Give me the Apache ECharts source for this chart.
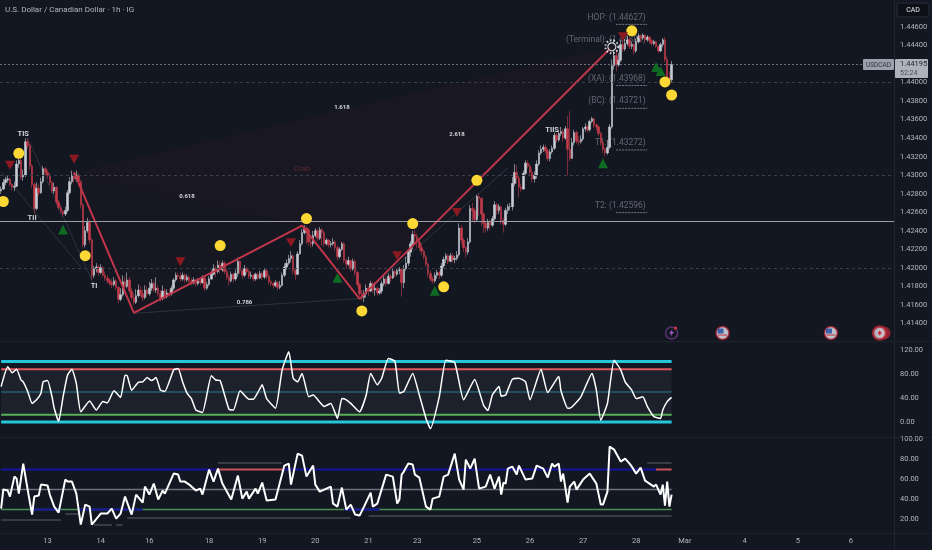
<!DOCTYPE html>
<html><head><meta charset="utf-8">
<style>html,body{margin:0;padding:0;background:#131722}#c{width:932px;height:550px}</style>
<script src="https://cdn.jsdelivr.net/npm/echarts@6/dist/echarts.min.js"></script>
</head><body><div id="c"></div>
<script>
const barCount = 404;
const tickBars = [21,45,67,94,118,142,166,188,215,239,263,287,309,336,360,384];
const tickLabels = ['13','14','16','18','19','20','21','23','25','26','27','28','Mar','4','5','6'];
const firstOpen = 1.4283;
const closes = [
1.4285,1.4292,1.4295,1.4296,1.4290,1.4287,1.4288,1.4312,1.4316,1.4298,
1.4300,1.4336,1.4332,1.4310,1.4290,1.4264,1.4286,1.4281,1.4293,1.4307,
1.4303,1.4300,1.4292,1.4283,1.4287,1.4271,1.4265,1.4261,1.4258,1.4262,
1.4281,1.4293,1.4300,1.4296,1.4300,1.4293,1.4268,1.4225,1.4240,1.4249,
1.4230,1.4192,1.4199,1.4201,1.4195,1.4200,1.4192,1.4189,1.4186,1.4184,
1.4182,1.4186,1.4179,1.4166,1.4171,1.4185,1.4180,1.4187,1.4175,1.4168,
1.4163,1.4170,1.4176,1.4172,1.4168,1.4176,1.4172,1.4178,1.4183,1.4176,
1.4178,1.4172,1.4167,1.4175,1.4169,1.4173,1.4172,1.4178,1.4187,1.4192,
1.4191,1.4188,1.4192,1.4187,1.4190,1.4186,1.4184,1.4187,1.4183,1.4186,
1.4184,1.4189,1.4178,1.4182,1.4188,1.4193,1.4199,1.4196,1.4203,1.4198,
1.4205,1.4196,1.4190,1.4186,1.4193,1.4188,1.4194,1.4207,1.4197,1.4192,
1.4199,1.4196,1.4191,1.4192,1.4188,1.4193,1.4189,1.4194,1.4190,1.4197,
1.4191,1.4185,1.4183,1.4181,1.4184,1.4179,1.4181,1.4192,1.4201,1.4205,
1.4210,1.4213,1.4197,1.4193,1.4215,1.4226,1.4238,1.4243,1.4241,1.4228,
1.4226,1.4235,1.4240,1.4232,1.4241,1.4238,1.4226,1.4230,1.4225,1.4226,
1.4228,1.4222,1.4212,1.4220,1.4226,1.4208,1.4204,1.4208,1.4199,1.4207,
1.4195,1.4182,1.4172,1.4168,1.4172,1.4178,1.4175,1.4183,1.4176,1.4178,
1.4173,1.4175,1.4183,1.4188,1.4183,1.4191,1.4189,1.4196,1.4193,1.4197,
1.4198,1.4184,1.4199,1.4205,1.4217,1.4226,1.4236,1.4234,1.4228,1.4222,
1.4218,1.4212,1.4204,1.4194,1.4188,1.4186,1.4192,1.4195,1.4192,1.4202,
1.4209,1.4213,1.4207,1.4213,1.4209,1.4210,1.4214,1.4243,1.4230,1.4222,
1.4217,1.4228,1.4264,1.4262,1.4252,1.4277,1.4275,1.4258,1.4248,1.4243,
1.4249,1.4246,1.4253,1.4268,1.4262,1.4266,1.4251,1.4247,1.4262,1.4266,
1.4266,1.4291,1.4303,1.4297,1.4287,1.4285,1.4302,1.4313,1.4310,1.4303,
1.4296,1.4300,1.4312,1.4324,1.4328,1.4330,1.4326,1.4318,1.4325,1.4329,
1.4343,1.4338,1.4345,1.4347,1.4340,1.4350,1.4328,1.4318,1.4335,1.4346,
1.4337,1.4336,1.4339,1.4350,1.4352,1.4349,1.4358,1.4361,1.4354,1.4352,
1.4345,1.4335,1.4328,1.4324,1.4330,1.4352,1.4418,1.4429,1.4419,1.4424,
1.4441,1.4436,1.4442,1.4446,1.4439,1.4441,1.4434,1.4444,1.4450,1.4448,
1.4451,1.4446,1.4449,1.4445,1.4442,1.4444,1.4439,1.4434,1.4441,1.4446,
1.4425,1.4405,1.4403,1.44195];
const highs = [
1.4288,1.4296,1.4298,1.4299,1.4297,1.4291,1.4293,1.4316,1.4320,1.4318,
1.4306,1.4340,1.4340,1.4334,1.4312,1.4292,1.4292,1.4290,1.4297,1.4310,
1.4309,1.4306,1.4302,1.4294,1.4292,1.4288,1.4273,1.4268,1.4262,1.4266,
1.4284,1.4298,1.4305,1.4303,1.4305,1.4302,1.4295,1.4270,1.4245,1.4254,
1.4252,1.4232,1.4202,1.4205,1.4203,1.4204,1.4202,1.4196,1.4192,1.4189,
1.4188,1.4190,1.4188,1.4180,1.4178,1.4192,1.4190,1.4195,1.4190,1.4178,
1.4172,1.4177,1.4182,1.4180,1.4176,1.4181,1.4180,1.4185,1.4188,1.4186,
1.4190,1.4181,1.4176,1.4181,1.4178,1.4177,1.4177,1.4181,1.4189,1.4195,
1.4195,1.4195,1.4195,1.4194,1.4193,1.4192,1.4189,1.4190,1.4188,1.4189,
1.4189,1.4192,1.4190,1.4185,1.4191,1.4197,1.4204,1.4202,1.4208,1.4207,
1.4208,1.4207,1.4199,1.4193,1.4196,1.4195,1.4198,1.4211,1.4208,1.4198,
1.4203,1.4201,1.4198,1.4196,1.4194,1.4195,1.4195,1.4197,1.4196,1.4200,
1.4199,1.4193,1.4187,1.4185,1.4187,1.4186,1.4186,1.4195,1.4205,1.4209,
1.4214,1.4218,1.4215,1.4200,1.4218,1.4230,1.4242,1.4246,1.4245,1.4243,
1.4232,1.4240,1.4243,1.4242,1.4244,1.4243,1.4240,1.4232,1.4231,1.4229,
1.4232,1.4230,1.4224,1.4222,1.4228,1.4228,1.4210,1.4212,1.4208,1.4210,
1.4209,1.4197,1.4184,1.4176,1.4176,1.4182,1.4180,1.4186,1.4185,1.4184,
1.4180,1.4178,1.4186,1.4191,1.4190,1.4194,1.4193,1.4199,1.4198,1.4199,
1.4201,1.4200,1.4203,1.4212,1.4220,1.4229,1.4240,1.4241,1.4237,1.4231,
1.4226,1.4220,1.4214,1.4206,1.4197,1.4191,1.4195,1.4198,1.4197,1.4205,
1.4212,1.4216,1.4215,1.4216,1.4216,1.4213,1.4218,1.4248,1.4246,1.4232,
1.4224,1.4232,1.4268,1.4270,1.4265,1.4279,1.4280,1.4276,1.4260,1.4250,
1.4253,1.4252,1.4256,1.4272,1.4270,1.4269,1.4267,1.4254,1.4265,1.4269,
1.4270,1.4298,1.4312,1.4311,1.4300,1.4291,1.4305,1.4316,1.4316,1.4312,
1.4307,1.4304,1.4316,1.4327,1.4332,1.4333,1.4333,1.4329,1.4328,1.4332,
1.4346,1.4346,1.4348,1.4352,1.4350,1.4353,1.4364,1.4369,1.4340,1.4349,
1.4348,1.4342,1.4343,1.4352,1.4356,1.4354,1.4360,1.4363,1.4362,1.4356,
1.4354,1.4347,1.4338,1.4330,1.4338,1.4355,1.4425,1.4447,1.4436,1.4432,
1.4446,1.4445,1.4447,1.4450,1.4449,1.4444,1.4443,1.4447,1.4453,1.4452,
1.4453,1.4452,1.4451,1.4450,1.4447,1.4446,1.4445,1.4440,1.4443,1.4448,
1.4449,1.4428,1.4412,1.4423];
const lows = [
1.4280,1.4284,1.4289,1.4292,1.4288,1.4284,1.4283,1.4287,1.4308,1.4295,
1.4294,1.4298,1.4328,1.4306,1.4286,1.4258,1.4262,1.4278,1.4280,1.4291,
1.4300,1.4296,1.4289,1.4281,1.4280,1.4268,1.4262,1.4258,1.4255,1.4256,
1.4260,1.4279,1.4290,1.4292,1.4293,1.4288,1.4264,1.4222,1.4222,1.4238,
1.4226,1.4187,1.4189,1.4195,1.4191,1.4193,1.4190,1.4186,1.4183,1.4181,
1.4178,1.4180,1.4176,1.4162,1.4164,1.4169,1.4176,1.4178,1.4172,1.4165,
1.4160,1.4161,1.4168,1.4169,1.4164,1.4166,1.4169,1.4170,1.4175,1.4174,
1.4173,1.4169,1.4164,1.4165,1.4166,1.4167,1.4168,1.4170,1.4176,1.4185,
1.4188,1.4185,1.4186,1.4184,1.4185,1.4183,1.4181,1.4182,1.4180,1.4181,
1.4181,1.4183,1.4175,1.4176,1.4180,1.4187,1.4192,1.4190,1.4194,1.4194,
1.4196,1.4193,1.4187,1.4181,1.4184,1.4184,1.4186,1.4190,1.4193,1.4188,
1.4190,1.4193,1.4188,1.4188,1.4185,1.4186,1.4187,1.4188,1.4187,1.4188,
1.4188,1.4182,1.4180,1.4178,1.4179,1.4176,1.4177,1.4180,1.4190,1.4198,
1.4203,1.4206,1.4193,1.4187,1.4192,1.4214,1.4224,1.4236,1.4226,1.4224,
1.4222,1.4223,1.4233,1.4229,1.4230,1.4224,1.4223,1.4224,1.4222,1.4222,
1.4224,1.4218,1.4208,1.4210,1.4218,1.4205,1.4199,1.4202,1.4196,1.4197,
1.4191,1.4179,1.4169,1.4165,1.4163,1.4168,1.4170,1.4174,1.4173,1.4170,
1.4170,1.4171,1.4172,1.4180,1.4180,1.4182,1.4185,1.4188,1.4190,1.4191,
1.4193,1.4169,1.4178,1.4197,1.4202,1.4212,1.4220,1.4226,1.4222,1.4218,
1.4214,1.4209,1.4201,1.4190,1.4185,1.4183,1.4184,1.4188,1.4188,1.4190,
1.4200,1.4205,1.4204,1.4206,1.4206,1.4205,1.4208,1.4212,1.4226,1.4217,
1.4211,1.4214,1.4226,1.4250,1.4248,1.4250,1.4256,1.4245,1.4238,1.4238,
1.4240,1.4241,1.4244,1.4251,1.4257,1.4258,1.4247,1.4238,1.4245,1.4258,
1.4262,1.4262,1.4288,1.4291,1.4276,1.4282,1.4284,1.4300,1.4307,1.4299,
1.4292,1.4292,1.4296,1.4310,1.4322,1.4325,1.4323,1.4315,1.4315,1.4323,
1.4327,1.4335,1.4336,1.4342,1.4336,1.4338,1.4300,1.4315,1.4318,1.4332,
1.4334,1.4332,1.4334,1.4337,1.4347,1.4346,1.4347,1.4356,1.4351,1.4348,
1.4342,1.4332,1.4324,1.4320,1.4322,1.4328,1.4350,1.4414,1.4412,1.4417,
1.4422,1.4433,1.4434,1.4440,1.4436,1.4436,1.4430,1.4432,1.4442,1.4444,
1.4446,1.4443,1.4444,1.4442,1.4440,1.4440,1.4437,1.4432,1.4433,1.4438,
1.4422,1.4400,1.4398,1.4400];

const patternBars = [33,60,136,162,276];
const patternPrices = [1.4303,1.41514,1.42455,1.41665,1.44385];
const faintLines = [[[12,1.43399],[42,1.41817]],[[0,1.4304],[36,1.4201]],[[162,1.4167],[229,1.4308]],[[60,1.4151],[162,1.4167]]];
const shadeA = [[33,1.4303],[60,1.41514],[136,1.42455]];
const shadeB = [[33,1.4303],[276,1.44385],[162,1.41665],[136,1.42455]];

const bulletBars = [1,8,38,99,138,163,186,200,215,285,300,303];
const bulletPrices = [1.42716,1.43236,1.42131,1.4224,1.42532,1.41535,1.42478,1.41795,1.42944,1.44558,1.44006,1.43865];
const downBars = [4,33,81,131,179,206,281];
const downPrices = [1.43106,1.43171,1.42066,1.42272,1.42131,1.42597,1.44493];
const upBars = [28,152,196,272,296,298];
const upPrices = [1.42413,1.41893,1.41752,1.43128,1.44168,1.44125];

const nameLabels = ['TIS','TII','TI','TIIS'];
const nameLabelBars = [10,14,42,249];
const nameLabelPrices = [1.43444,1.42538,1.41804,1.43487];
const ratioLabels = ['0.618','1.618','2.618','0.786'];
const ratioLabelBars = [84,154,206,110];
const ratioLabelPrices = [1.42775,1.4373,1.43444,1.41621];
const harmonicLabels = ['HOP: (1.44627)','(Terminal): (1.44385)','(XA): (1.43968)','(BC): (1.43721)','T1: (1.43272)','T2: (1.42596)'];
const harmonicPrices = [1.44627,1.44385,1.43968,1.43721,1.43272,1.42596];
const underlinePrices = [1.44627,1.43968,1.43721,1.43272,1.42596];
const terminalPoint = [276,1.44385];
const eventPrice = 1.41297;
const usEvents = [326,375];
const caEvents = [397];
const newsEvents = [303];

const osc1Bars = [0,3,5,7,9,10,12,14,16,18,19,21,23,24,26,28,30,32,34,36,40,43,46,48,51,54,56,57,59,62,64,66,68,70,72,74,78,80,82,84,86,88,91,95,97,99,103,105,108,112,114,116,118,120,124,127,130,132,134,136,139,141,146,149,152,154,156,158,162,165,167,170,172,175,178,180,182,186,189,192,194,198,201,205,209,214,218,220,222,225,226,228,231,234,237,239,244,247,252,253,256,257,262,267,269,271,274,277,280,282,285,287,290,292,295,298,299,301,303];
const osc1Values = [59,92,82,88,70,67,51,31,37,48,67,69,42,23,1,42,78,88,64,17,35,20,34,32,52,41,78,77,53,66,67,74,69,74,53,51,87,89,67,48,39,20,16,77,70,69,21,20,52,38,38,49,62,39,23,87,117,73,67,81,42,45,26,31,6,39,37,31,17,45,81,62,73,106,101,48,51,81,45,6,-11,42,103,99,37,71,28,19,45,59,43,45,71,73,67,37,88,49,76,52,23,23,42,81,53,3,31,103,87,67,53,39,42,26,9,6,20,34,41];
const osc1Levels = [101,88,50,12,0];

const osc2Bars = [0,1,3,4,6,7,8,10,12,14,15,17,18,21,22,24,26,29,30,32,34,36,38,40,41,45,48,50,52,54,56,59,61,64,65,67,69,71,73,74,78,80,81,83,85,88,90,91,94,96,98,100,104,107,109,111,112,115,116,118,120,124,128,130,131,134,136,138,141,142,144,148,149,150,152,154,156,158,160,162,164,167,168,170,174,177,179,180,181,182,184,186,187,189,192,194,195,198,200,202,205,207,209,210,212,214,216,219,221,223,225,226,227,228,229,231,233,234,237,240,242,245,247,249,250,252,253,254,256,257,259,260,263,266,269,271,272,274,275,277,280,282,284,285,287,289,291,295,296,298,299,300,301,302,303];
const osc2Values = [31,50,49,43,63,61,46,76,50,25,43,44,55,54,45,33,27,60,58,58,46,15,35,33,15,26,26,31,21,26,43,25,45,37,53,45,56,40,49,46,66,65,58,58,55,49,51,45,70,58,71,56,40,64,41,48,41,51,46,57,39,40,74,76,55,86,84,63,74,55,48,52,53,36,33,52,30,35,25,24,33,47,33,36,65,63,36,40,65,68,76,75,65,62,33,30,41,43,63,65,86,60,50,80,71,81,51,53,65,51,63,45,57,56,71,73,65,74,60,61,74,71,62,76,73,76,58,66,37,53,58,50,60,66,56,35,35,48,93,90,78,81,76,73,66,72,59,53,55,45,55,34,58,33,45];
const osc2UpperBlue = [[0,97],[127,296]];
const osc2UpperRed = [[98,127],[296,303]];
const osc2LowerBlue = [[13,27],[35,64],[155,171]];
const osc2Greys = [[19.6,0,27],[25.6,29,35],[14.6,42,50],[14.6,52,55],[21.6,57,158],[23.6,166,303],[76.6,98,127],[76.6,292,303]];

const pricePrecision = 5;
const col = {bg:'#131722', up:'#c8ccd4', down:'#c23b4a', red:'#c2364a', sep:'#2a2e39', text:'#b2b5be', mute:'#787b86'};
const font = 'Roboto, "Noto Sans", sans-serif';
const lastBar = closes.length - 1;

const candleData = closes.map((c,i)=>[i===0?firstOpen:closes[i-1], c, lows[i], highs[i]]);
const zip = (xs,ys)=>xs.map((x,i)=>[x,ys[i]]);
const cats = Array.from({length:barCount},(_,i)=>String(i));
const tickMap = {}; tickBars.forEach((b,i)=>tickMap[b]=tickLabels[i]);

function seg(g, val, from, to, color, width, z){
  return {type:'line',xAxisIndex:g,yAxisIndex:g,data:[[from,val],[to,val]],showSymbol:false,symbol:'none',silent:true,z:z||2,
    lineStyle:{color,width},animation:false};
}
function poly(verts, fill){
  return {type:'custom',xAxisIndex:0,yAxisIndex:0,z:1,silent:true,animation:false,clip:true,data:verts,
    renderItem:(p,api)=>{ if(p.dataIndex!==0) return null;
      return {type:'polygon',shape:{points:verts.map(v=>api.coord(v))},style:{fill}}; }};
}
function dots(xs, ys, size, color, extra){
  return Object.assign({type:'scatter',xAxisIndex:0,yAxisIndex:0,data:zip(xs,ys),symbolSize:size,z:6,silent:true,animation:false,
    itemStyle:{color,opacity:1}},extra||{});
}
function textSeries(names, xs, ys, labelStyle, z){
  return {type:'scatter',xAxisIndex:0,yAxisIndex:0,symbolSize:1,z:z,silent:true,animation:false,
    itemStyle:{color:'transparent'},
    data:names.map((n,i)=>({name:n,value:[xs[i],ys[i]]})),
    label:Object.assign({show:true,formatter:p=>p.name,fontFamily:font},labelStyle)};
}

const series = [
  poly(shadeA,'rgba(150,30,50,0.03)'),
  poly(shadeB,'rgba(150,30,50,0.045)'),
  ...faintLines.map(l=>({type:'line',xAxisIndex:0,yAxisIndex:0,data:l,symbol:'none',silent:true,z:1,animation:false,
     lineStyle:{color:'rgba(135,145,160,0.22)',width:1}})),
  textSeries(harmonicLabels,harmonicLabels.map(()=>292),harmonicPrices,{position:'left',distance:1,offset:[0,-7],color:col.mute,fontSize:8.5},2),
  textSeries(['Crab'],[136],[1.43067],{position:'inside',color:'#6d2b35',fontSize:8},2),
  {type:'line',xAxisIndex:0,yAxisIndex:0,symbol:'none',silent:true,z:2,animation:false,connectNulls:false,
    data:underlinePrices.flatMap(p=>[[278,p],[292,p],[292,null]]),
    lineStyle:{color:col.mute,width:1,type:[2,1]}},
  {type:'candlestick',xAxisIndex:0,yAxisIndex:0,data:candleData,barWidth:2,z:3,silent:true,animation:false,
    itemStyle:{color:col.up,color0:col.down,borderColor:col.up,borderColor0:col.down,borderWidth:0.6},
    markLine:{silent:true,symbol:'none',animation:false,precision:5,label:{show:false},data:[
      {yAxis:1.44,lineStyle:{color:'#3a3f4c',type:[3,3],width:1}},
      {yAxis:1.43,lineStyle:{color:'#3a3f4c',type:[3,3],width:1}},
      {yAxis:1.42,lineStyle:{color:'#3a3f4c',type:[3,3],width:1}},
      {yAxis:1.425,lineStyle:{color:'#9a9ea8',type:'solid',width:1}},
      {yAxis:1.44195,lineStyle:{color:'#6b6f7a',type:[2,2],width:1}}
    ]}},
  {type:'line',xAxisIndex:0,yAxisIndex:0,data:zip(patternBars,patternPrices),symbol:'none',silent:true,z:4,animation:false,
    lineStyle:{color:col.red,width:2}},
  dots(bulletBars,bulletPrices,11,'#fdd835'),
  dots(downBars,downPrices,[10,9],'#8a1a20',{symbol:'triangle',symbolRotate:180}),
  dots(upBars,upPrices,[10,10],'#0f6b22',{symbol:'triangle'}),
  textSeries(nameLabels,nameLabelBars,nameLabelPrices,{position:'inside',color:'#fff',fontSize:7.5,fontWeight:'bold'},7),
  textSeries(ratioLabels,ratioLabelBars,ratioLabelPrices,{position:'inside',color:'#fff',fontSize:6,fontWeight:'bold'},7),
  {type:'scatter',xAxisIndex:0,yAxisIndex:0,data:[terminalPoint],symbolSize:13,z:7,silent:true,animation:false,
    itemStyle:{color:'transparent',borderColor:'#fff',borderWidth:2,borderType:[1.5,2]}},
  {type:'scatter',xAxisIndex:0,yAxisIndex:0,data:[terminalPoint],symbolSize:8,z:7,silent:true,animation:false,
    itemStyle:{color:col.bg,borderColor:'#fff',borderWidth:1.2}},
  // event icons
  dots(usEvents,usEvents.map(()=>eventPrice),13,'#e8ebf2',{itemStyle:{color:'#e8ebf2',borderColor:'#a51c2e',borderWidth:1.6}}),
  dots(usEvents,usEvents.map(()=>eventPrice),[6,5],'#3c5fa8',{symbol:'rect',symbolOffset:[-2,-2],z:8}),
  dots(usEvents,usEvents.map(()=>eventPrice),[9,1],'#c62f40',{symbol:'rect',symbolOffset:[0,2],z:8}),
  dots(caEvents.map(b=>b+2),caEvents.map(()=>eventPrice),13,'#8e2333',{z:5}),
  dots(caEvents,caEvents.map(()=>eventPrice),13,'#e8ebf2',{itemStyle:{color:'#d9dde6',borderColor:'#b3202f',borderWidth:2.5}}),
  dots(caEvents,caEvents.map(()=>eventPrice),[4,5],'#c62f40',{symbol:'diamond',z:8}),
  dots(newsEvents,newsEvents.map(()=>eventPrice),12,'transparent',{itemStyle:{color:'transparent',borderColor:'#6f3a86',borderWidth:1.5}}),
  dots(newsEvents,newsEvents.map(()=>eventPrice),[5,8],'#9c5bb8',{symbol:'path://M6 0 L0 7 L4 7 L2 12 L9 4 L5 4 Z'}),
  dots(newsEvents,newsEvents.map(()=>eventPrice),3,'#e5333f',{symbolOffset:[4,-5],z:8}),
  // oscillator 1
  {type:'line',xAxisIndex:1,yAxisIndex:1,data:[[0,88],[lastBar,88]],symbol:'none',silent:true,z:1,animation:false,lineStyle:{width:0},
    areaStyle:{opacity:0},markArea:{silent:true,animation:false,itemStyle:{color:'rgba(255,255,255,0.045)'},data:[[{xAxis:0,yAxis:88},{xAxis:lastBar,yAxis:12}]]}},
  seg(1,osc1Levels[2],0,lastBar,'#2b7f92',1),
  seg(1,osc1Levels[0],0,lastBar,'#26c6da',3),
  seg(1,osc1Levels[1],0,lastBar,'#e0595e',2),
  seg(1,osc1Levels[3],0,lastBar,'#58b05a',2),
  seg(1,osc1Levels[4],0,lastBar,'#26c6da',3),
  {type:'line',xAxisIndex:1,yAxisIndex:1,data:zip(osc1Bars,osc1Values),symbol:'none',silent:true,z:5,animation:false,smooth:0.15,
    lineStyle:{color:'#fff',width:1.5}},
  // oscillator 2
  seg(2,50,0,lastBar,'#6f727c',1.5),
  seg(2,30,0,lastBar,'#4a8f52',1.5),
  ...osc2Greys.map(g=>seg(2,g[0],g[1],g[2],'#5d6069',1)),
  ...osc2UpperBlue.map(s=>seg(2,70,s[0],s[1],'#1414a0',2,3)),
  ...osc2UpperRed.map(s=>seg(2,70,s[0],s[1],'#c9525a',2,3)),
  ...osc2LowerBlue.map(s=>seg(2,30,s[0],s[1],'#1414a0',2,3)),
  {type:'line',xAxisIndex:2,yAxisIndex:2,data:zip(osc2Bars,osc2Values),symbol:'none',silent:true,z:5,animation:false,
    lineStyle:{color:'#fff',width:2}}
];

const baseX = i=>({type:'category',gridIndex:i,data:cats,boundaryGap:true,axisLine:{show:false},axisTick:{show:false},splitLine:{show:false},axisPointer:{show:false},
  axisLabel:{show:false}});
const yLab = {color:col.text,fontSize:7.5,fontFamily:font,margin:6};
const chart = echarts.init(document.getElementById('c'),null,{renderer:'canvas'});
chart.setOption({
  backgroundColor:col.bg,animation:false,
  grid:[
    {left:0,right:38,top:0,height:342},
    {left:0,right:38,top:341,height:105},
    {left:0,right:38,top:437,height:102.6}
  ],
  xAxis:[baseX(0),baseX(1),Object.assign(baseX(2),{axisLabel:{show:true,color:col.text,fontSize:7.5,fontFamily:font,margin:-2.5,hideOverlap:false,
      interval:i=>tickMap[i]!==undefined,formatter:(v,i)=>tickMap[i]||''}})],
  yAxis:[
    {type:'value',gridIndex:0,position:'right',min:1.412,max:1.4489,interval:0.002,scale:true,axisLine:{show:false},axisTick:{show:false},splitLine:{show:false},
      axisLabel:Object.assign({},yLab,{showMinLabel:false,showMaxLabel:false,formatter:v=>{const s=v.toFixed(pricePrecision);return (s==='1.44200'||s==='1.41200'||s==='1.44890')?'':s;}})},
    {type:'value',gridIndex:1,position:'right',min:-40,max:135,interval:40,axisLine:{show:false},axisTick:{show:false},splitLine:{show:false},
      axisLabel:Object.assign({},yLab,{formatter:v=>(v>=0&&v%40===0)?v.toFixed(2):''})},
    {type:'value',gridIndex:2,position:'right',min:0,max:102.6,interval:20,axisLine:{show:false},axisTick:{show:false},splitLine:{show:false},
      axisLabel:Object.assign({},yLab,{formatter:v=>(v>0&&v%20===0)?v.toFixed(2):''})}
  ],
  series,
  graphic:[
    {type:'rect',z:50,silent:true,shape:{x:0,y:341,width:932,height:0.5},style:{fill:col.sep}},
    {type:'rect',z:50,silent:true,shape:{x:0,y:437,width:932,height:0.5},style:{fill:col.sep}},
    {type:'rect',z:50,silent:true,shape:{x:0,y:533,width:932,height:0.5},style:{fill:col.sep}},
    {type:'rect',z:50,silent:true,shape:{x:894,y:0,width:0.6,height:550},style:{fill:col.sep}},
    {type:'text',z:50,silent:true,style:{x:5,y:10,text:'U.S. Dollar / Canadian Dollar · 1h · IG',fill:col.text,font:'8px '+font,verticalAlign:'middle'}},
    {type:'rect',z:50,silent:true,shape:{x:897,y:3,width:32,height:14,r:2},style:{fill:'#0d1017',stroke:'#2a2e39',lineWidth:1}},
    {type:'text',z:51,silent:true,style:{x:913,y:10,text:'CAD',fill:'#e6e8ee',font:'7px '+font,align:'center',verticalAlign:'middle'}},
    {type:'rect',z:50,silent:true,shape:{x:863,y:59,width:31,height:11,r:1},style:{fill:'#9ba0ac'}},
    {type:'text',z:51,silent:true,style:{x:878.5,y:65,text:'USDCAD',fill:'#30343f',font:'6.5px '+font,align:'center',verticalAlign:'middle'}},
    {type:'rect',z:50,silent:true,shape:{x:895,y:59,width:33,height:19,r:1},style:{fill:'#aeb2bc'}},
    {type:'text',z:51,silent:true,style:{x:900,y:64.5,text:'1.44195',fill:'#22262f',font:'7.5px '+font,verticalAlign:'middle'}},
    {type:'text',z:51,silent:true,style:{x:900,y:73,text:'52:24',fill:'#4a4e59',font:'7px '+font,verticalAlign:'middle'}}
  ]
});
</script></body></html>
